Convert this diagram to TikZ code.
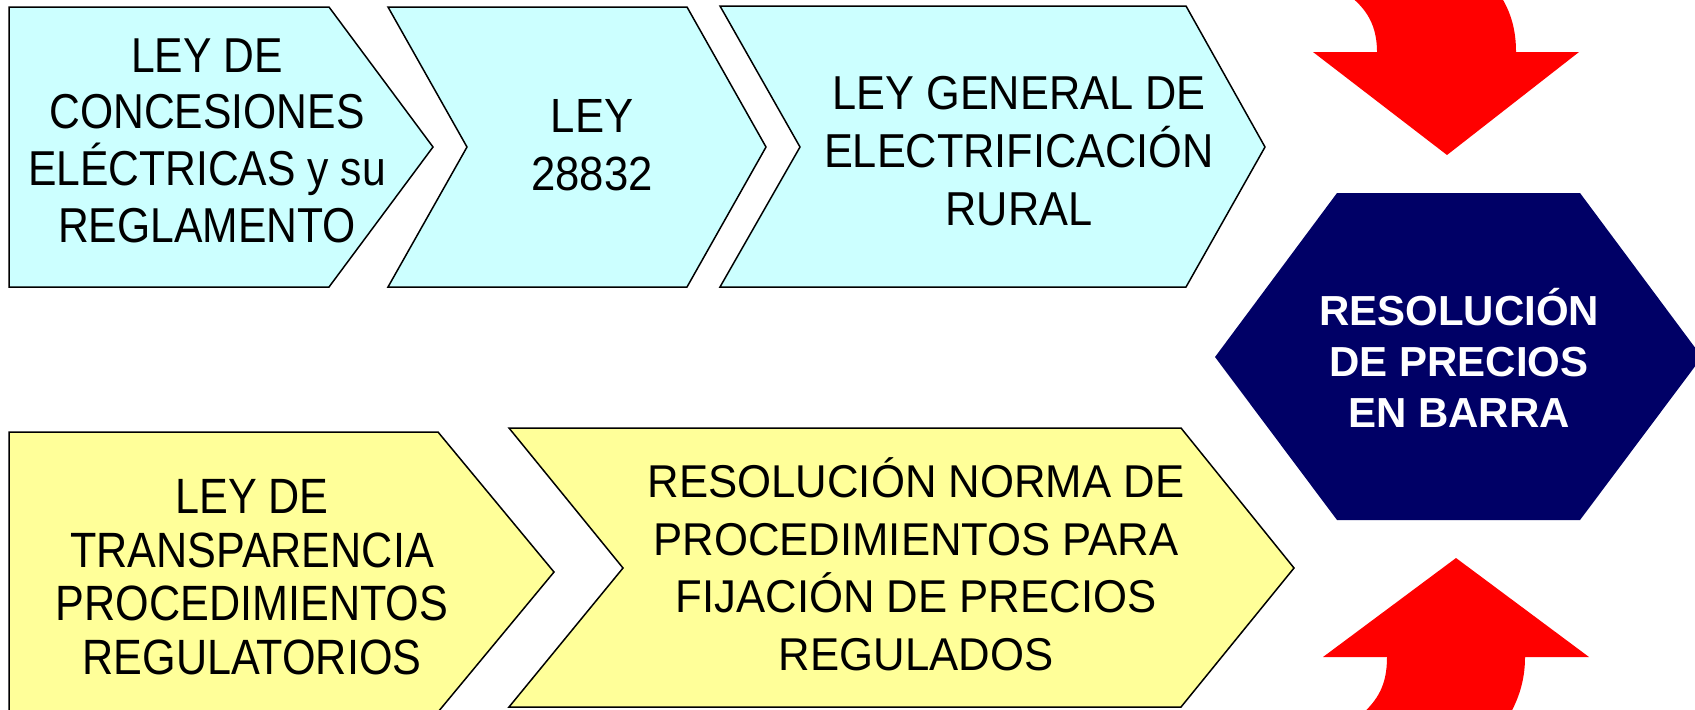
\documentclass[tikz,border=0pt]{standalone}
\usepackage{fontspec}
\setmainfont{Liberation Sans}
\newfontfamily\lawfont{Liberation Sans}[FakeStretch=0.87]
\newfontfamily\lawfontwide{Liberation Sans}[FakeStretch=0.91]
\newfontfamily\normafont{Liberation Sans}[FakeStretch=0.95]

\definecolor{lawcyan}{HTML}{CCFFFF}
\definecolor{lawyellow}{HTML}{FFFF99}
\definecolor{barranavy}{HTML}{000066}

\begin{document}
\begin{tikzpicture}[x=0.5pt,y=-0.5pt,
    chev/.style={draw=black,line width=0.75pt,line join=miter},
    lawtext/.style={align=center,inner sep=0pt,anchor=base},
    redarrow/.style={fill=red,draw=none}]
    \useasboundingbox (0,0) rectangle (1695,709);
    \clip (0,0) rectangle (1695,709);

    \draw[chev,fill=lawcyan] (9,7) -- (329,7) -- (433,147) -- (329,287) -- (9,287) -- cycle;
    \draw[chev,fill=lawcyan] (388,7) -- (687,7) -- (766,147) -- (687,287) -- (388,287) -- (467,147) -- cycle;
    \draw[chev,fill=lawcyan] (720,6) -- (1186,6) -- (1265,147) -- (1186,287) -- (720,287) -- (800,147) -- cycle;

    \draw[chev,fill=lawyellow] (9,432) -- (438,432) -- (554,572) -- (438,712) -- (9,712) -- cycle;
    \draw[chev,fill=lawyellow] (509,428) -- (1181,428) -- (1294,568) -- (1181,707) -- (509,707) -- (623,568) -- cycle;

    \fill[barranavy] (1215,357) -- (1337,193) -- (1580,193) -- (1702,357) -- (1580,520) -- (1337,520) -- cycle;

    \fill[redarrow] (1345,-8) -- (1500,-5) .. controls (1511,12) and (1516,30) .. (1516,52)
      -- (1579,52) -- (1447,155) -- (1313,52) -- (1377,52) .. controls (1377,20) and (1362,5) .. (1345,-8) -- cycle;
    \fill[redarrow] (1360,716) -- (1509,716) .. controls (1519,698) and (1525,680) .. (1525,657)
      -- (1589,657) -- (1456,558) -- (1323,657) -- (1387,657) .. controls (1387,685) and (1378,700) .. (1360,716) -- cycle;

    \node[lawtext,font=\lawfont\fontsize{24.5}{28.3}\selectfont] (lce) at (207,242)
      {LEY DE\\CONCESIONES\\ELÉCTRICAS y su\\REGLAMENTO};
    \node[lawtext,font=\lawfontwide\fontsize{24}{28.7}\selectfont] (ley) at (592,190)
      {LEY\\28832};
    \node[lawtext,font=\lawfontwide\fontsize{23.8}{29}\selectfont] (lger) at (1019,225)
      {LEY GENERAL DE\\ELECTRIFICACIÓN\\RURAL};
    \node[lawtext,font=\lawfont\fontsize{24.8}{26.7}\selectfont] (ltpr) at (252,674)
      {LEY DE\\TRANSPARENCIA\\PROCEDIMIENTOS\\REGULATORIOS};
    \node[lawtext,font=\normafont\fontsize{23}{28.7}\selectfont] (rnpf) at (916,670)
      {RESOLUCIÓN NORMA DE\\PROCEDIMIENTOS PARA\\FIJACIÓN DE PRECIOS\\REGULADOS};
    \node[lawtext,text=white,font=\bfseries\fontsize{21}{25.5}\selectfont] (rpb) at (1459,427)
      {RESOLUCIÓN\\DE PRECIOS\\EN BARRA};
\end{tikzpicture}
\end{document}
